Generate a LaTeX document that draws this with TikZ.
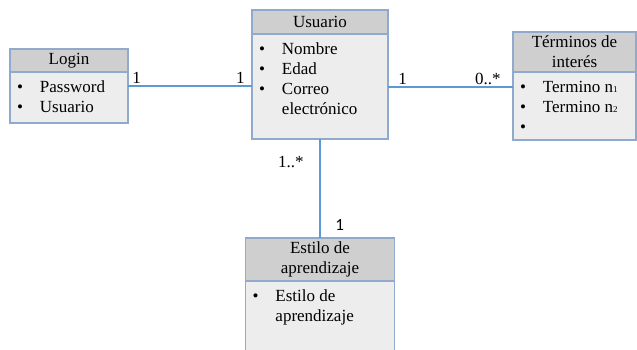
\documentclass[tikz,border=0pt]{standalone}
\usepackage{fontspec}
\setmainfont{Liberation Serif}
\newfontfamily\calibrifont{Carlito}
\usetikzlibrary{calc}
\definecolor{boxline}{HTML}{8FAACC}
\definecolor{headgray}{HTML}{CFCFCF}
\definecolor{bodygray}{HTML}{EDEDED}
\definecolor{linkblue}{HTML}{5B9BD5}
\newcommand{\attrlist}[3]{\begin{minipage}[t][#1][t]{#2}\vspace{6pt}\begin{tabular}{@{\hspace{7pt}}l@{\hspace{17pt}}l@{}}#3\end{tabular}\end{minipage}}
\newcommand{\smallidx}[1]{{\fontsize{9}{9}\selectfont #1}}

\begin{document}
\begin{tikzpicture}[x=1pt, y=-1pt,
		font=\fontsize{17}{20}\selectfont,
		classhead/.style={draw=boxline, line width=1.2pt, fill=headgray, inner sep=0pt, outer sep=0pt, align=center},
		classbody/.style={draw=boxline, line width=1.2pt, fill=bodygray, inner sep=0pt, outer sep=0pt, anchor=north},
		assoc/.style={draw=linkblue, line width=2.6pt},
		mult/.style={inner sep=1pt}]
				\useasboundingbox (0,0) rectangle (637,349);
				
				\node[classhead, minimum width=118, minimum height=23] (loginh) at (69,60.5) {Login};
				\node[classbody] (loginb) at (loginh.south) {\attrlist{51pt}{118pt}{\textbullet & Password\\ \textbullet & Usuario}};
				
				\node[classhead, minimum width=136, minimum height=24] (usuarioh) at (320,22) {Usuario};
				\node[classbody] (usuariob) at (usuarioh.south) {\attrlist{105pt}{136pt}{\textbullet & Nombre\\ \textbullet & Edad\\ \textbullet & Correo\\ & electrónico}};
				
				\node[classhead, minimum width=123, minimum height=40] (terminosh) at (574.5,52) {Términos de\\interés};
				\node[classbody] (terminosb) at (terminosh.south) {\attrlist{68pt}{123pt}{\textbullet & Termino n\smallidx{1}\\ \textbullet & Termino n\smallidx{2}\\ \textbullet &}};
				
				\node[classhead, minimum width=149, minimum height=43] (estiloh) at (320,259.5) {Estilo de\\aprendizaje};
				\node[classbody] (estilob) at (estiloh.south) {\attrlist{80pt}{149pt}{\textbullet & Estilo de\\ & aprendizaje}};
				
				\coordinate (loginend) at ([yshift=-14pt]loginb.north east);
				\coordinate (terminosend) at ([yshift=-15pt]terminosb.north west);
				
				\draw[assoc] (loginend) -- (loginend -| usuariob.west)
					node[mult, pos=0, anchor=south west, xshift=2pt] (m1) {1}
					node[mult, pos=1, anchor=south east, xshift=-5pt] (m2) {1};
				\draw[assoc] (terminosend -| usuariob.east) -- (terminosend)
					node[mult, pos=0, anchor=south west, xshift=8pt] (m3) {1}
					node[mult, pos=1, anchor=south east, xshift=-10pt] (m4) {0..*};
				\draw[assoc] (usuariob.south) -- (estiloh.north)
					node[mult, pos=0, anchor=north east, xshift=-14pt, yshift=-15pt] (m5) {1..*}
					node[mult, pos=1, anchor=south west, xshift=13pt, yshift=5pt, font=\calibrifont\fontsize{17}{20}\selectfont] (m6) {1};
\end{tikzpicture}
\end{document}
